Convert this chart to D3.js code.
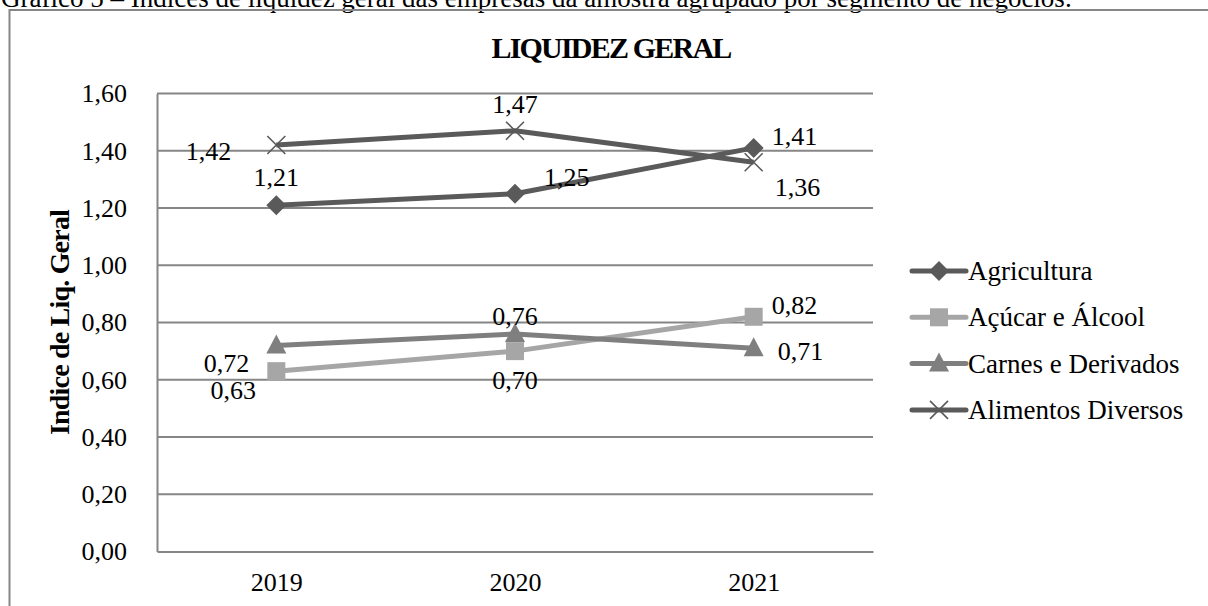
<!DOCTYPE html>
<html>
<head>
<meta charset="utf-8">
<script src="https://cdn.jsdelivr.net/npm/d3@7/dist/d3.min.js"></script>
<style>
  html, body { margin: 0; padding: 0; background: #fff; }
  svg { display: block; font-family: "Liberation Serif", "Times New Roman", serif; }
</style>
</head>
<body>
<svg id="chart" width="1208" height="606"></svg>
<script>
// Categories, series and tick labels
const years = ["2019", "2020", "2021"];
const seriesNames = ["Agricultura", "Açúcar e Álcool", "Carnes e Derivados", "Alimentos Diversos"];
const agricultura = [1.21, 1.25, 1.41];
const acucarAlcool = [0.63, 0.70, 0.82];
const carnesDerivados = [0.72, 0.76, 0.71];
const alimentosDiversos = [1.42, 1.47, 1.36];
const yTicks = [0, 0.2, 0.4, 0.6, 0.8, 1.0, 1.2, 1.4, 1.6];

const caption = "Gráfico 5 – Índices de liquidez geral das empresas da amostra agrupado por segmento de negócios.";
const chartTitle = "LIQUIDEZ GERAL";
const yAxisTitle = "Indice de Liq. Geral";

// Styling per series
const styles = [
  { color: "#5a5a5a", marker: "diamond" },
  { color: "#a6a6a6", marker: "square" },
  { color: "#7f7f7f", marker: "triangle" },
  { color: "#5a5a5a", marker: "cross" }
];

// Value label placement per series/point: [dx, dy (to text centre), anchor]
const labelPlacement = [
  [[0, -28, "middle"], [29, -17, "start"], [18, -12, "start"]],
  [[-43, 19, "middle"], [0, 29, "middle"], [18, -12, "start"]],
  [[-27, 18, "end"], [0, -18, "middle"], [24, 3, "start"]],
  [[-45, 6, "end"], [0, -27, "middle"], [21, 25, "start"]]
];

const seriesValues = [agricultura, acucarAlcool, carnesDerivados, alimentosDiversos];
const fmt = v => v.toFixed(2).replace(".", ",");

const svg = d3.select("#chart");
const grid = "#868686";
const fontSize = 26;

// Caption line above the frame
svg.append("text")
  .attr("x", 1).attr("y", 7)
  .attr("font-size", 27)
  .attr("fill", "#000")
  .text(caption);

// Outer frame
svg.append("rect")
  .attr("x", 9.5).attr("y", 10)
  .attr("width", 1210).attr("height", 620)
  .attr("fill", "none").attr("stroke", grid).attr("stroke-width", 2);

const plot = { left: 157, right: 873, top: 93.5, bottom: 551.5 };

const x = d3.scalePoint().domain(years).range([plot.left, plot.right]).padding(0.5);
const y = d3.scaleLinear().domain([0, 1.6]).range([plot.bottom, plot.top]);

// Horizontal gridlines
svg.append("g")
  .selectAll("line")
  .data(yTicks.slice(1))
  .join("line")
  .attr("x1", plot.left).attr("x2", plot.right)
  .attr("y1", d => y(d)).attr("y2", d => y(d))
  .attr("stroke", grid).attr("stroke-width", 2);

// Y axis
const yAxis = d3.axisLeft(y).tickValues(yTicks).tickFormat(fmt).tickSize(0).tickPadding(30);
const gy = svg.append("g").attr("transform", `translate(${plot.left},0)`).call(yAxis);
gy.select(".domain").attr("stroke", grid).attr("stroke-width", 2);
gy.selectAll("text")
  .attr("font-family", "Liberation Serif, serif")
  .attr("font-size", fontSize).attr("fill", "#000");

// X axis
const xAxis = d3.axisBottom(x).tickSize(0).tickPadding(21);
const gx = svg.append("g").attr("transform", `translate(0,${plot.bottom})`).call(xAxis);
gx.select(".domain").attr("stroke", grid).attr("stroke-width", 2);
gx.selectAll("text")
  .attr("font-family", "Liberation Serif, serif")
  .attr("font-size", fontSize).attr("fill", "#000");

// Chart title
svg.append("text")
  .attr("x", 611).attr("y", 58)
  .attr("text-anchor", "middle")
  .attr("font-size", 30).attr("font-weight", "bold")
  .attr("letter-spacing", -1.8)
  .attr("fill", "#000")
  .text(chartTitle);

// Y axis title
svg.append("text")
  .attr("transform", `translate(69,${(plot.top + plot.bottom) / 2}) rotate(-90)`)
  .attr("text-anchor", "middle")
  .attr("font-size", 28).attr("font-weight", "bold")
  .attr("letter-spacing", -0.8)
  .attr("fill", "#000")
  .text(yAxisTitle);

// Marker drawing
function drawMarker(g, type, color, cx, cy) {
  if (type === "diamond") {
    g.append("path")
      .attr("d", `M${cx},${cy - 10}L${cx + 10},${cy}L${cx},${cy + 10}L${cx - 10},${cy}Z`)
      .attr("fill", color);
  } else if (type === "square") {
    g.append("rect")
      .attr("x", cx - 9).attr("y", cy - 9).attr("width", 18).attr("height", 18)
      .attr("fill", color);
  } else if (type === "triangle") {
    g.append("path")
      .attr("d", `M${cx},${cy - 11}L${cx + 10},${cy + 8}L${cx - 10},${cy + 8}Z`)
      .attr("fill", color);
  } else {
    g.append("path")
      .attr("d", `M${cx - 9},${cy - 9}L${cx + 9},${cy + 9}M${cx + 9},${cy - 9}L${cx - 9},${cy + 9}`)
      .attr("stroke", color).attr("stroke-width", 1.6).attr("fill", "none");
  }
}

const line = d3.line().x((d, i) => x(years[i])).y(d => y(d));

seriesValues.forEach((vals, si) => {
  const st = styles[si];
  const g = svg.append("g");
  g.append("path")
    .datum(vals)
    .attr("d", line)
    .attr("fill", "none")
    .attr("stroke", st.color)
    .attr("stroke-width", 5)
    .attr("stroke-linejoin", "round");
  vals.forEach((v, i) => drawMarker(g, st.marker, st.color, x(years[i]), y(v)));
});

// Value labels drawn on top
seriesValues.forEach((vals, si) => {
  vals.forEach((v, i) => {
    const [dx, dy, anchor] = labelPlacement[si][i];
    svg.append("text")
      .attr("x", x(years[i]) + dx)
      .attr("y", y(v) + dy + 9)
      .attr("text-anchor", anchor)
      .attr("font-size", fontSize).attr("fill", "#000")
      .text(fmt(v));
  });
});

// Legend
const legend = svg.append("g");
seriesNames.forEach((name, si) => {
  const st = styles[si];
  const ly = 271 + si * 46.3;
  legend.append("line")
    .attr("x1", 912).attr("x2", 966)
    .attr("y1", ly).attr("y2", ly)
    .attr("stroke", st.color).attr("stroke-width", 5)
    .attr("stroke-linecap", "round");
  drawMarker(legend, st.marker, st.color, 939, ly);
  legend.append("text")
    .attr("x", 968).attr("y", ly + 9)
    .attr("font-size", 27).attr("fill", "#000")
    .text(name);
});
</script>
</body>
</html>
